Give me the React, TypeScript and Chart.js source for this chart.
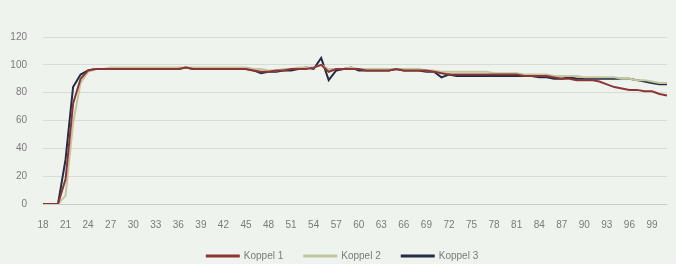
import { useEffect, useRef } from 'react';
import { Chart, registerables } from 'chart.js';

Chart.register(...registerables);

const categories: string[] = [
  '18','19','20','21','22','23','24','25','26','27','28','29','30','31','32','33','34','35','36','37',
  '38','39','40','41','42','43','44','45','46','47','48','49','50','51','52','53','54','55','56','57',
  '58','59','60','61','62','63','64','65','66','67','68','69','70','71','72','73','74','75','76','77',
  '78','79','80','81','82','83','84','85','86','87','88','89','90','91','92','93','94','95','96','97',
  '98','99','100','101',
];

const koppel1: number[] = [
  0, 0, 0, 18, 72, 90, 96, 97, 97, 97, 97, 97, 97, 97, 97, 97, 97, 97, 97, 98,
  97, 97, 97, 97, 97, 97, 97, 97, 96, 95, 95, 96, 96, 97, 97, 97, 98, 100, 95, 97,
  97, 97, 97, 96, 96, 96, 96, 97, 96, 96, 96, 96, 95, 94, 93, 93, 93, 93, 93, 93,
  93, 93, 93, 93, 92, 92, 92, 92, 91, 90, 90, 89, 89, 89, 88, 86, 84, 83, 82, 82,
  81, 81, 79, 78,
];

const koppel2: number[] = [
  0, 0, 0, 6, 58, 87, 95, 97, 97, 98, 98, 98, 98, 98, 98, 98, 98, 98, 98, 98,
  98, 98, 98, 98, 98, 98, 98, 98, 97, 97, 96, 96, 97, 97, 98, 98, 98, 100, 97, 97,
  97, 98, 97, 97, 97, 97, 97, 97, 97, 97, 97, 96, 96, 95, 95, 95, 95, 95, 95, 95,
  94, 94, 94, 94, 93, 93, 93, 93, 92, 92, 92, 92, 91, 91, 91, 91, 91, 90, 90, 89,
  89, 88, 87, 87,
];

const koppel3: number[] = [
  0, 0, 0, 32, 84, 93, 96, 97, 97, 97, 97, 97, 97, 97, 97, 97, 97, 97, 97, 98,
  97, 97, 97, 97, 97, 97, 97, 97, 96, 94, 95, 95, 96, 96, 97, 98, 97, 105, 89, 96,
  97, 98, 96, 96, 96, 96, 96, 97, 96, 96, 96, 95, 95, 91, 93, 92, 92, 92, 92, 92,
  92, 92, 92, 92, 92, 92, 91, 91, 90, 90, 91, 90, 90, 90, 90, 90, 90, 90, 90, 89,
  88, 87, 86, 86,
];

const seriesNames = ['Koppel 1', 'Koppel 2', 'Koppel 3'];
const seriesColors = ['#8e3434', '#c2c79e', '#252a45'];
const yTicks = { min: 0, max: 120, step: 20 };

const bgPlugin = {
  id: 'bg',
  beforeDraw(chart: any) {
    const { ctx, width, height } = chart;
    ctx.save();
    ctx.fillStyle = '#eff3ee';
    ctx.fillRect(0, 0, width, height);
    ctx.restore();
  },
};

const legendShift = {
  id: 'legendShift',
  afterLayout(chart: any) {
    const lg = chart.legend;
    if (lg) {
      lg.left += 9;
      lg.right += 9;
      lg.top += 2;
      lg.bottom += 2;
    }
  },
};

export default function App() {
  const ref = useRef<HTMLCanvasElement | null>(null);

  useEffect(() => {
    document.body.style.margin = '0';
    document.body.style.background = '#eff3ee';
    if (!ref.current) return;
    const series = [koppel1, koppel2, koppel3];
    const chart = new Chart(ref.current, {
      type: 'line',
      data: {
        labels: categories,
        datasets: series.map((d, i) => ({
          label: seriesNames[i],
          data: d,
          borderColor: seriesColors[i],
          backgroundColor: seriesColors[i],
          borderWidth: 2,
          pointRadius: 0,
          tension: 0,
          fill: false,
        })),
      },
      options: {
        animation: false,
        responsive: false,
        maintainAspectRatio: false,
        layout: { padding: { top: 37, left: 0, right: 9, bottom: -5 } },
        plugins: {
          tooltip: { enabled: false },
          legend: {
            position: 'bottom',
            labels: {
              boxWidth: 32,
              boxHeight: 1,
              padding: 21,
              color: '#7a7a7a',
              font: { family: 'Liberation Sans', size: 10 },
            },
          },
        },
        scales: {
          x: {
            offset: false,
            grid: { display: false, drawTicks: false },
            border: { display: false },
            afterFit: (s: any) => {
              s.height = 24;
              s.paddingRight = 0;
            },
            ticks: {
              autoSkip: false,
              maxRotation: 0,
              minRotation: 0,
              padding: 15,
              color: '#7a7a7a',
              font: { family: 'Liberation Sans', size: 10 },
              callback: (_v: any, i: number) => (i % 3 === 0 ? categories[i] : ''),
            },
          },
          y: {
            min: yTicks.min,
            max: yTicks.max,
            afterFit: (s: any) => { s.width = 43; },
            grid: {
              drawTicks: false,
              color: (c: any) => (c.index === 0 ? '#c8cbc6' : '#d8dbd6'),
              lineWidth: 1,
            },
            border: { display: false },
            ticks: {
              stepSize: yTicks.step,
              padding: 16,
              color: '#7a7a7a',
              font: { family: 'Liberation Sans', size: 10 },
            },
          },
        },
      },
      plugins: [bgPlugin, legendShift],
    });
    return () => chart.destroy();
  }, []);

  return (
    <div style={{ width: 676, height: 264, background: '#eff3ee' }}>
      <canvas ref={ref} width={676} height={264} style={{ display: 'block', width: 676, height: 264 }} />
    </div>
  );
}
